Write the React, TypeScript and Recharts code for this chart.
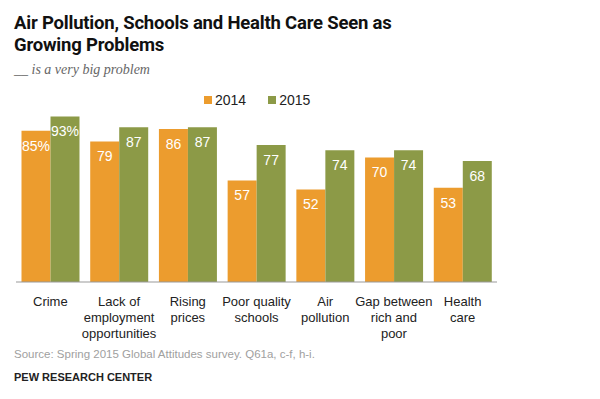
import { BarChart, Bar, XAxis, YAxis, LabelList } from "recharts";

const categories = [
  "Crime",
  "Lack of\nemployment\nopportunities",
  "Rising\nprices",
  "Poor quality\nschools",
  "Air\npollution",
  "Gap between\nrich and\npoor",
  "Health\ncare",
];
const values2014 = [85, 79, 86, 57, 52, 70, 53];
const values2015 = [93, 87, 87, 77, 74, 74, 68];
const labels2014 = ["85%", "79", "86", "57", "52", "70", "53"];
const labels2015 = ["93%", "87", "87", "77", "74", "74", "68"];
const seriesNames = ["2014", "2015"];

const ORANGE = "#EC9C2E";
const GREEN = "#8C9A47";
const FONT = "'Liberation Sans', Arial, sans-serif";

const data = categories.map((name, i) => ({
  name,
  y2014: values2014[i],
  y2015: values2015[i],
  l2014: labels2014[i],
  l2015: labels2015[i],
}));

function CategoryTick(props: any) {
  const { x, y, payload } = props;
  const lines = String(payload.value).split("\n");
  return (
    <text x={x} y={y} textAnchor="middle" fill="#222" fontSize={13} fontFamily={FONT}>
      {lines.map((line, i) => (
        <tspan key={i} x={x} dy={16}>
          {line}
        </tspan>
      ))}
    </text>
  );
}

export default function App() {
  return (
    <div
      style={{
        position: "absolute",
        top: 0,
        left: 0,
        width: 600,
        height: 399,
        background: "#fff",
        fontFamily: FONT,
      }}
    >
      <div
        style={{
          position: "absolute",
          left: 14,
          top: 12,
          fontSize: 18.5,
          fontWeight: 700,
          lineHeight: "22px",
          color: "#111",
          fontFamily: "'Liberation Sans Narrow', 'Roboto', sans-serif",
          letterSpacing: -0.2,
        }}
      >
        Air Pollution, Schools and Health Care Seen as
        <br />
        Growing Problems
      </div>
      <div
        style={{
          position: "absolute",
          left: 14,
          top: 62,
          fontSize: 14,
          fontStyle: "italic",
          color: "#666",
          fontFamily: "'Liberation Serif', Georgia, serif",
        }}
      >
        __ is a very big problem
      </div>

      <div
        style={{
          position: "absolute",
          left: 204,
          top: 92,
          display: "flex",
          gap: 22,
          fontSize: 14,
          color: "#222",
        }}
      >
        {seriesNames.map((s, i) => (
          <div key={s} style={{ display: "flex", alignItems: "center", gap: 3 }}>
            <span
              style={{
                display: "inline-block",
                width: 8,
                height: 8,
                background: i === 0 ? ORANGE : GREEN,
              }}
            />
            <span>{s}</span>
          </div>
        ))}
      </div>

      <BarChart
        width={600}
        height={399}
        data={data}
        margin={{ top: 104, right: 103, bottom: 57, left: 16 }}
        barGap={0}
        barCategoryGap="8%"
        style={{ position: "absolute", top: 0, left: 0 }}
      >
        <YAxis hide domain={[0, 100]} />
        <XAxis
          dataKey="name"
          interval={0}
          height={60}
          tickLine={false}
          axisLine={{ stroke: "#999", strokeWidth: 1 }}
          tick={<CategoryTick />}
        />
        <Bar dataKey="y2014" name="2014" fill={ORANGE} isAnimationActive={false}>
          <LabelList
            dataKey="l2014"
            position="insideTop"
            offset={10}
            fill="#fff"
            fontSize={14}
            fontFamily={FONT}
          />
        </Bar>
        <Bar dataKey="y2015" name="2015" fill={GREEN} isAnimationActive={false}>
          <LabelList
            dataKey="l2015"
            position="insideTop"
            offset={10}
            fill="#fff"
            fontSize={14}
            fontFamily={FONT}
          />
        </Bar>
      </BarChart>

      <div
        style={{
          position: "absolute",
          left: 14,
          top: 348,
          fontSize: 11.5,
          color: "#a0a0a0",
        }}
      >
        Source: Spring 2015 Global Attitudes survey. Q61a, c-f, h-i.
      </div>
      <div
        style={{
          position: "absolute",
          left: 14,
          top: 371,
          fontSize: 11,
          fontWeight: 700,
          color: "#222",
        }}
      >
        PEW RESEARCH CENTER
      </div>
    </div>
  );
}
